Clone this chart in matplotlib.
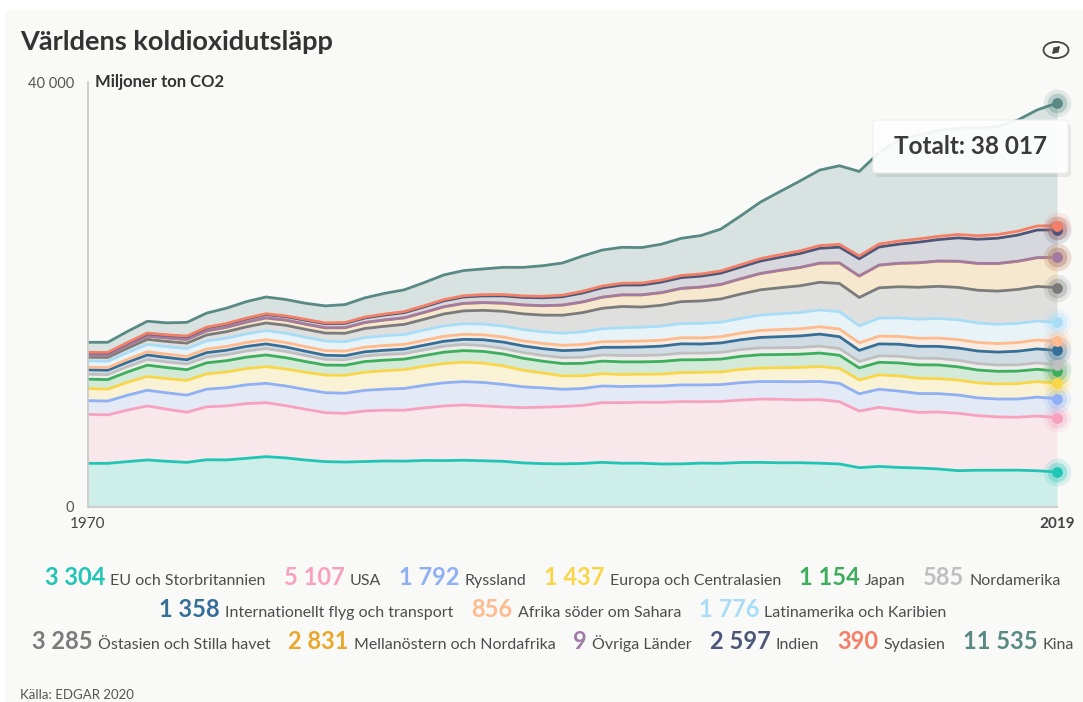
import numpy as np
import matplotlib
matplotlib.use('Agg')
import matplotlib.pyplot as plt
from matplotlib.patches import FancyBboxPatch, Circle, Rectangle, FancyArrowPatch

# --- data (Mt CO2, 1970-2019) ---
years = list(range(1970, 2020))

eu_uk = [4110, 4110, 4270, 4430, 4300, 4200, 4450, 4430, 4580, 4740,
         4620, 4420, 4270, 4230, 4280, 4330, 4320, 4380, 4370, 4400,
         4350, 4300, 4150, 4080, 4060, 4100, 4200, 4120, 4120, 4050,
         4060, 4130, 4110, 4190, 4200, 4160, 4170, 4120, 4050, 3700,
         3820, 3720, 3670, 3580, 3420, 3460, 3460, 3470, 3410, 3304]
usa = [4610, 4560, 4850, 5080, 4900, 4720, 4980, 5080, 5150, 5080,
       4920, 4780, 4610, 4580, 4760, 4780, 4790, 4950, 5140, 5200,
       5170, 5120, 5200, 5320, 5400, 5450, 5620, 5700, 5740, 5800,
       5860, 5780, 5820, 5870, 5960, 5980, 5910, 5990, 5860, 5330,
       5560, 5430, 5230, 5360, 5400, 5140, 5020, 4980, 5150, 5107]
russia = [1290, 1300, 1400, 1480, 1540, 1610, 1660, 1710, 1770, 1820,
          1850, 1860, 1880, 1900, 1940, 1980, 2050, 2120, 2180, 2200,
          2200, 2120, 1960, 1810, 1620, 1600, 1570, 1520, 1510, 1540,
          1570, 1580, 1590, 1640, 1650, 1660, 1710, 1710, 1730, 1620,
          1700, 1760, 1780, 1730, 1720, 1670, 1680, 1710, 1780, 1792]
europe_ca = [1130, 1130, 1220, 1300, 1340, 1390, 1440, 1490, 1530, 1570,
             1600, 1620, 1660, 1680, 1710, 1740, 1770, 1800, 1820, 1830,
             1820, 1740, 1560, 1400, 1260, 1200, 1150, 1130, 1130, 1120,
             1160, 1180, 1190, 1250, 1270, 1300, 1350, 1400, 1410, 1310,
             1360, 1430, 1430, 1410, 1410, 1410, 1420, 1450, 1460, 1437]
japan = [890, 890, 970, 1060, 1040, 1000, 1040, 1060, 1070, 1100,
         1060, 1010, 940, 950, 1000, 990, 990, 1000, 1060, 1090,
         1100, 1120, 1130, 1110, 1160, 1170, 1190, 1190, 1160, 1190,
         1200, 1190, 1210, 1230, 1250, 1250, 1240, 1270, 1230, 1130,
         1180, 1220, 1270, 1290, 1240, 1210, 1190, 1180, 1160, 1154]
north_am = [470, 470, 500, 530, 540, 540, 550, 560, 580, 600,
            590, 570, 530, 520, 530, 530, 520, 540, 570, 580,
            540, 530, 540, 540, 560, 570, 580, 600, 600, 610,
            630, 620, 630, 640, 640, 640, 630, 650, 630, 600,
            610, 620, 620, 620, 620, 610, 590, 590, 600, 585]
intl = [410, 410, 420, 430, 410, 400, 410, 420, 430, 440,
        420, 400, 390, 380, 390, 400, 420, 440, 460, 480,
        560, 590, 620, 640, 660, 690, 720, 770, 800, 830,
        880, 860, 890, 920, 990, 1040, 1090, 1130, 1120, 1050,
        1120, 1140, 1120, 1130, 1150, 1180, 1220, 1280, 1320, 1358]
africa = [250, 250, 270, 300, 310, 320, 340, 360, 370, 400,
          420, 430, 440, 440, 440, 450, 450, 460, 470, 470,
          470, 480, 480, 490, 500, 520, 530, 550, 560, 560,
          570, 580, 590, 630, 660, 670, 670, 700, 720, 710,
          730, 740, 760, 780, 800, 800, 800, 820, 840, 856]
latam = [590, 600, 640, 690, 710, 730, 760, 780, 810, 850,
         880, 890, 900, 880, 900, 910, 930, 960, 980, 1000,
         1000, 1030, 1060, 1090, 1140, 1180, 1220, 1280, 1310, 1310,
         1340, 1360, 1360, 1380, 1440, 1490, 1530, 1580, 1630, 1600,
         1690, 1740, 1800, 1840, 1860, 1840, 1810, 1800, 1780, 1776]
east_asia = [350, 360, 410, 480, 490, 510, 560, 610, 660, 720,
             740, 740, 750, 790, 850, 900, 950, 1020, 1120, 1210,
             1300, 1390, 1480, 1580, 1690, 1810, 1920, 2010, 1890, 1980,
             2060, 2110, 2190, 2290, 2380, 2450, 2520, 2600, 2660, 2670,
             2860, 2930, 3000, 3030, 3050, 3080, 3130, 3190, 3260, 3285]
mena = [210, 215, 250, 300, 320, 340, 380, 410, 440, 470,
        480, 490, 490, 520, 560, 590, 610, 640, 670, 700,
        720, 760, 830, 880, 950, 1000, 1040, 1090, 1140, 1180,
        1240, 1300, 1360, 1430, 1530, 1630, 1720, 1790, 1920, 2010,
        2130, 2200, 2300, 2370, 2450, 2520, 2590, 2650, 2700, 2831]
other = [6, 6, 6, 7, 7, 7, 7, 7, 8, 8,
         8, 8, 8, 8, 8, 8, 8, 9, 9, 9,
         9, 9, 9, 8, 8, 8, 8, 8, 8, 8,
         8, 8, 8, 8, 8, 9, 9, 9, 9, 9,
         9, 9, 9, 9, 9, 9, 9, 9, 9, 9]
india = [200, 205, 220, 230, 240, 260, 280, 290, 300, 320,
         330, 360, 380, 400, 420, 460, 490, 520, 560, 600,
         630, 680, 710, 740, 780, 840, 880, 920, 930, 990,
         1010, 1030, 1060, 1100, 1170, 1230, 1310, 1400, 1490, 1620,
         1700, 1800, 1940, 2020, 2200, 2270, 2380, 2460, 2600, 2597]
south_asia = [45, 46, 50, 55, 57, 60, 63, 66, 68, 70,
              72, 76, 80, 84, 88, 92, 97, 102, 108, 114,
              120, 127, 135, 142, 150, 158, 166, 174, 180, 190,
              200, 205, 210, 218, 226, 235, 242, 252, 260, 270,
              280, 290, 298, 305, 318, 330, 345, 360, 378, 390]
china = [940, 950, 1050, 1110, 1130, 1290, 1330, 1440, 1560, 1580,
         1540, 1520, 1600, 1690, 1810, 1950, 2050, 2180, 2330, 2370,
         2420, 2560, 2690, 2880, 3030, 3320, 3390, 3380, 3340, 3380,
         3500, 3620, 3940, 4600, 5320, 5950, 6580, 7110, 7400, 7950,
         8600, 9510, 9800, 9950, 10000, 10150, 10160, 10450, 10930, 11535]

total_2019 = 38017  # as printed in the tooltip (unrounded sum)

names = ["EU och Storbritannien", "USA", "Ryssland", "Europa och Centralasien",
         "Japan", "Nordamerika", "Internationellt flyg och transport",
         "Afrika söder om Sahara", "Latinamerika och Karibien",
         "Östasien och Stilla havet", "Mellanöstern och Nordafrika",
         "Övriga Länder", "Indien", "Sydasien", "Kina"]
series = [eu_uk, usa, russia, europe_ca, japan, north_am, intl, africa,
          latam, east_asia, mena, other, india, south_asia, china]
colors = ['#20c5b5', '#f7a1be', '#8fb0f5', '#f9d649', '#3dae5c', '#bfbfbf',
          '#356f98', '#fdbb8e', '#a8ddf7', '#7b7b7b', '#e9a82c', '#a17aa5',
          '#4c5679', '#f27f66', '#588985']
legend_rows = [[0, 1, 2, 3, 4, 5], [6, 7, 8], [9, 10, 11, 12, 13, 14]]

plt.rcParams['font.family'] = ['Lato', 'DejaVu Sans']

W, H = 1083, 702
fig = plt.figure(figsize=(W / 100, H / 100), dpi=100)
fig.patch.set_facecolor('white')
fig.add_artist(Rectangle((5 / W, 0), (W - 5) / W, (H - 10) / H, transform=fig.transFigure,
                         facecolor='#f9f9f7', edgecolor='none', zorder=-10))


def fx(px):
    return px / W


def fy(py):
    return 1 - py / H


ax = fig.add_axes([fx(88), fy(507), fx(1057) - fx(88), fy(82) - fy(507)])
ax.set_facecolor('none')

cum = np.cumsum(np.array(series, dtype=float), axis=0)
for i in range(len(series)):
    lower = cum[i - 1] if i > 0 else np.zeros(len(years))
    ax.fill_between(years, lower, cum[i], color=colors[i], alpha=0.2, linewidth=0)
for i in range(len(series)):
    ax.plot(years, cum[i], color=colors[i], lw=2, solid_joinstyle='round')

# end markers with halo
for i in range(len(series)):
    y = cum[i][-1]
    ax.scatter([years[-1]], [y], s=400, color=colors[i], alpha=0.15, lw=0, clip_on=False, zorder=5)
    ax.scatter([years[-1]], [y], s=200, color=colors[i], alpha=0.3, lw=0, clip_on=False, zorder=5)
    ax.scatter([years[-1]], [y], s=60, color=colors[i], lw=0, clip_on=False, zorder=6)

ax.set_xlim(1970, 2019)
ax.set_ylim(0, 40000)
for s in ['top', 'right']:
    ax.spines[s].set_visible(False)
for s in ['left', 'bottom']:
    ax.spines[s].set_color('#c8c8c8')
    ax.spines[s].set_linewidth(1.2)
ax.set_yticks([0, 40000])
ax.set_yticklabels(['0', '40 000'])
ax.set_xticks([1970, 2019])
ax.set_xticklabels(['1970', '2019'])
ax.tick_params(axis='y', length=0, pad=10, labelsize=10.5, labelcolor='#555555')
ax.tick_params(axis='x', length=0, pad=7, labelsize=11, labelcolor='#444444')
ax.get_xticklabels()[1].set_fontweight('bold')

fig.text(fx(95), fy(82), 'Miljoner ton CO2', fontsize=12, fontweight='bold',
         color='#333333', va='center')
fig.text(fx(20), fy(42), 'Världens koldioxidutsläpp', fontsize=19.5, fontweight='bold',
         color='#333333', va='center')

# expand icon
fig.add_artist(Circle((fx(1056), fy(50)), 12.5 / W, transform=fig.transFigure,
                      facecolor='none', edgecolor='#444444', lw=1.3))
fig.add_artist(FancyArrowPatch((fx(1050), fy(56)), (fx(1062), fy(44)),
                               transform=fig.transFigure,
                               arrowstyle='<|-|>,head_length=0.5,head_width=0.3',
                               mutation_scale=6, color='#444444', lw=1.2))

# tooltip
fig.add_artist(FancyBboxPatch((fx(876), fy(177)), fx(195), fy(120) - fy(173),
                              boxstyle='round,pad=0,rounding_size=0.004',
                              transform=fig.transFigure, facecolor='#000000',
                              alpha=0.07, edgecolor='none', zorder=7))
fig.add_artist(FancyBboxPatch((fx(873), fy(173)), fx(195), fy(120) - fy(173),
                              boxstyle='round,pad=0,rounding_size=0.004',
                              transform=fig.transFigure, facecolor='white',
                              alpha=0.93, edgecolor='#eeeeee', lw=0.8, zorder=8))
fig.text(fx(971), fy(147), 'Totalt: ' + f"{total_2019:,}".replace(',', ' '), fontsize=17.5,
         fontweight='bold', color='#3a3a3a', ha='center', va='center', zorder=9)

# legend rows
renderer = fig.canvas.get_renderer()
baselines = [585, 617, 649]
center_x = 553
for row, base in zip(legend_rows, baselines):
    items = []
    for i in row:
        num = f"{series[i][-1]:,}".replace(',', ' ')
        t1 = fig.text(0, fy(base), num, fontsize=17, fontweight='bold',
                      color=colors[i], va='baseline')
        t2 = fig.text(0, fy(base), names[i], fontsize=11.5, color='#4d4d4d', va='baseline')
        w1 = t1.get_window_extent(renderer).width
        w2 = t2.get_window_extent(renderer).width
        items.append((t1, w1, t2, w2))
    gap_in, gap_out = 5, 18
    total_w = sum(w1 + gap_in + w2 for _, w1, _, w2 in items) + gap_out * (len(items) - 1)
    x = center_x - total_w / 2
    for t1, w1, t2, w2 in items:
        t1.set_x(fx(x))
        x += w1 + gap_in
        t2.set_x(fx(x))
        x += w2 + gap_out

fig.text(fx(20), fy(695), 'Källa: EDGAR 2020', fontsize=9.5, color='#555555', va='center')

fig.savefig('out.png', dpi=100, facecolor=fig.get_facecolor())
